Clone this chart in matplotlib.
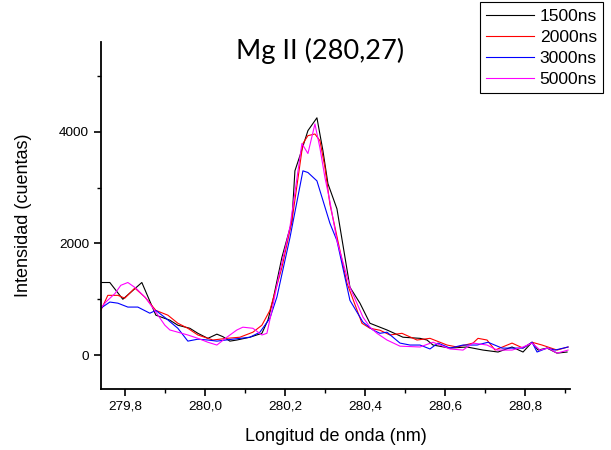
import numpy as np
import matplotlib
matplotlib.use('Agg')
import matplotlib.pyplot as plt
from matplotlib.ticker import MultipleLocator, FuncFormatter

plt.rcParams['font.family'] = ['Liberation Sans', 'DejaVu Sans']

# 1500ns
x_1500 = [279.740, 279.7625, 279.795, 279.8425, 279.8775, 279.9125, 279.9325, 279.9625, 279.9825,
          280.0075, 280.03, 280.045, 280.0625, 280.08, 280.1125, 280.1425, 280.1575, 280.17, 280.1925,
          280.2175, 280.225, 280.2375, 280.2575, 280.28, 280.295, 280.3075, 280.33, 280.3625, 280.3875,
          280.4125, 280.455, 280.495, 280.5375, 280.555, 280.57, 280.6125, 280.655, 280.695, 280.7325,
          280.7675, 280.795, 280.8175, 280.8325, 280.855, 280.88, 280.905]
y_1500 = [1300, 1300, 1000, 1300, 715, 625, 535, 480, 390,
          300, 375, 330, 250, 270, 320, 390, 625, 980, 1750,
          2400, 3300, 3570, 4020, 4250, 3660, 3070, 2620, 1215, 930,
          570, 450, 320, 300, 270, 180, 125, 145, 90, 55,
          145, 55, 230, 90, 125, 35, 55]

# 2000ns
x_2000 = [279.740, 279.7575, 279.7825, 279.80, 279.825, 279.85, 279.8775, 279.9075, 279.9325, 279.9575,
          279.9825, 280.0075, 280.02, 280.055, 280.0875, 280.12, 280.1425, 280.1625, 280.1925, 280.2175,
          280.245, 280.2575, 280.275, 280.2875, 280.30, 280.3125, 280.325, 280.355, 280.3925, 280.4125,
          280.4375, 280.4625, 280.4925, 280.53, 280.5625, 280.605, 280.63, 280.67, 280.6825, 280.705,
          280.725, 280.7675, 280.795, 280.8175, 280.8425, 280.88, 280.9075]
y_2000 = [800, 1070, 1070, 1020, 1200, 1040, 800, 715, 570, 480,
          360, 300, 270, 300, 320, 410, 535, 800, 1570, 2400,
          3790, 3930, 3960, 3840, 3360, 2700, 2290, 1290, 570, 480,
          445, 360, 390, 270, 300, 180, 145, 215, 300, 270,
          90, 215, 125, 230, 180, 90, 145]

# 3000ns
x_3000 = [279.740, 279.7625, 279.7825, 279.8075, 279.8325, 279.8625, 279.8775, 279.9025, 279.9325, 279.9575,
          279.9825, 280.0075, 280.03, 280.07, 280.1125, 280.1375, 280.1625, 280.18, 280.2125, 280.245,
          280.2575, 280.28, 280.295, 280.3125, 280.33, 280.3625, 280.395, 280.42, 280.4375, 280.455,
          280.4875, 280.5125, 280.5375, 280.5625, 280.5825, 280.6125, 280.645, 280.68, 280.7075, 280.7425,
          280.77, 280.795, 280.8175, 280.83, 280.855, 280.875, 280.9075]
y_3000 = [840, 950, 930, 860, 860, 750, 800, 660, 480, 250,
          285, 270, 250, 285, 320, 410, 660, 1040, 2100, 3300,
          3270, 3120, 2770, 2360, 2050, 980, 590, 450, 390, 410,
          215, 180, 180, 110, 215, 125, 180, 180, 230, 125,
          125, 125, 230, 55, 125, 90, 145]

# 5000ns
x_5000 = [279.740, 279.7525, 279.775, 279.79, 279.8075, 279.8275, 279.8525, 279.8775, 279.90, 279.9125,
          279.9325, 279.9575, 279.9825, 280.0075, 280.03, 280.055, 280.08, 280.095, 280.12, 280.1425,
          280.155, 280.1675, 280.1825, 280.2125, 280.2425, 280.2575, 280.275, 280.2875, 280.30, 280.3125,
          280.33, 280.3625, 280.395, 280.4125, 280.43, 280.455, 280.4875, 280.5375, 280.57, 280.6125,
          280.645, 280.67, 280.705, 280.73, 280.7675, 280.795, 280.8175, 280.8375, 280.8575, 280.88, 280.9075]
y_5000 = [840, 950, 1100, 1250, 1300, 1200, 1020, 770, 535, 450,
          410, 360, 300, 230, 180, 320, 450, 500, 480, 360,
          390, 800, 1340, 2290, 3790, 3610, 4140, 3710, 3180, 2750,
          2050, 1215, 680, 500, 390, 270, 160, 145, 230, 110,
          90, 215, 180, 90, 90, 145, 215, 90, 125, 35, 90]

series = [('1500ns', x_1500, y_1500, '#000000'),
          ('2000ns', x_2000, y_2000, '#ff0000'),
          ('3000ns', x_3000, y_3000, '#0000ff'),
          ('5000ns', x_5000, y_5000, '#ff00ff')]

fig = plt.figure(figsize=(6.11, 4.5), dpi=100)
ax = fig.add_axes([0.165, 0.1356, 0.768, 0.771])

for name, xs, ys, c in series:
    ax.plot(xs, ys, color=c, lw=0.8, label=name)

ax.set_xlim(279.74, 280.9125)
ax.set_ylim(-607, 5607)

for s in ['top', 'right']:
    ax.spines[s].set_visible(False)
for s in ['left', 'bottom']:
    ax.spines[s].set_linewidth(1.3)

ax.xaxis.set_major_locator(MultipleLocator(0.2))
ax.xaxis.set_minor_locator(MultipleLocator(0.1))
ax.yaxis.set_major_locator(MultipleLocator(2000))
ax.yaxis.set_minor_locator(MultipleLocator(1000))
ax.xaxis.set_major_formatter(FuncFormatter(lambda v, p: f'{v:.1f}'.replace('.', ',')))
ax.yaxis.set_major_formatter(FuncFormatter(lambda v, p: f'{v:.0f}'))
ax.tick_params(which='major', direction='out', length=5, width=1.2, labelsize=9.7)
ax.tick_params(which='minor', direction='out', length=3, width=1.0)

ax.set_xlabel('Longitud de onda (nm)', fontsize=13)
ax.set_ylabel('Intensidad (cuentas)', fontsize=13)
ax.xaxis.set_label_coords(0.5, -0.112)
ax.yaxis.set_label_coords(-0.146, 0.5)

fig.text(0.524, 0.887, 'Mg II (280,27)', fontsize=19.5, family=['Lato', 'DejaVu Sans'],
         ha='center', va='center')

leg = fig.legend(loc='upper right', bbox_to_anchor=(0.987, 0.995), fontsize=12.6,
                 fancybox=False, edgecolor='black', framealpha=1, handlelength=2.7,
                 borderaxespad=0, borderpad=0.35, labelspacing=0.34, handletextpad=0.35)
leg.get_frame().set_linewidth(0.8)

fig.savefig('out.png', dpi=100)
